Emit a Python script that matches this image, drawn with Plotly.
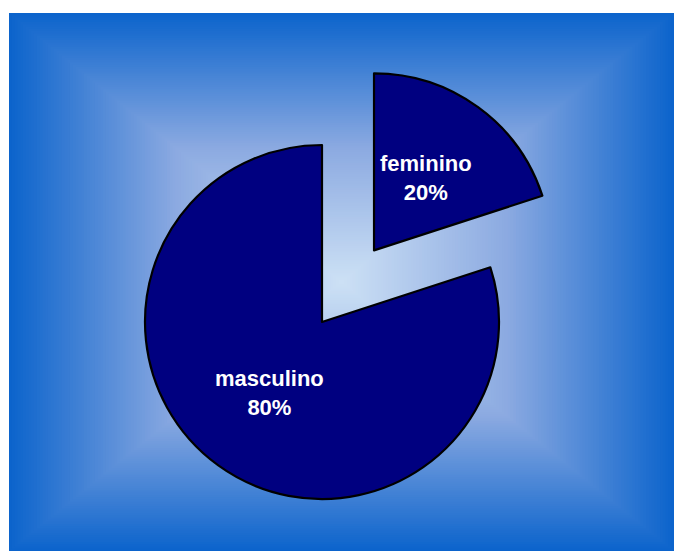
import math
import plotly.graph_objects as go

# Data
labels = ["feminino", "masculino"]
values = [20, 80]
pulls = [0.5, 0.0]

W, H = 674, 551
SLICE_COLOR = "#000080"

# Pie geometry (pixels)
cx, cy = 322.0, 322.0
radius = 177.0

# Gradient frame (pixels)
box_l, box_t, box_r, box_b = 9.0, 13.0, 674.0, 551.0
# colour stops: (distance from centre 0..1, rgb)
grad_stops = [
    (0.0, (205, 225, 245)),
    (0.5, (140, 170, 225)),
    (1.0, (12, 100, 204)),
]


def px_x(x):
    return x / W


def px_y(y):
    return 1 - y / H


def grad_color(t):
    for (t0, c0), (t1, c1) in zip(grad_stops[:-1], grad_stops[1:]):
        if t <= t1:
            f = (t - t0) / (t1 - t0)
            return tuple(round(a + (b - a) * f) for a, b in zip(c0, c1))
    return grad_stops[-1][1]


fig = go.Figure()

# Rectangular "from center" gradient built from nested rectangles
steps = 120
gcx = (box_l + box_r) / 2
gcy = (box_t + box_b) / 2
hw = (box_r - box_l) / 2
hh = (box_b - box_t) / 2
shapes = []
for i in range(steps):
    t = 1 - i / steps
    col = grad_color(t)
    shapes.append(dict(
        type="rect", xref="paper", yref="paper", layer="below",
        x0=px_x(gcx - hw * t), x1=px_x(gcx + hw * t),
        y0=px_y(gcy + hh * t), y1=px_y(gcy - hh * t),
        fillcolor="rgb(%d,%d,%d)" % col, line=dict(width=0),
    ))

# Slice angles (clockwise from 12 o'clock)
total = sum(values)
angles = []
start = 0.0
for v in values:
    sweep = 360.0 * v / total
    angles.append((start, start + sweep))
    start += sweep

annotations = []
for i, (lab, val) in enumerate(zip(labels, values)):
    a0, a1 = angles[i]
    mid = math.radians((a0 + a1) / 2)
    off = pulls[i] * radius
    pcx = cx + off * math.sin(mid)
    pcy = cy - off * math.cos(mid)
    colors = ["rgba(0,0,0,0)"] * len(values)
    widths = [0] * len(values)
    colors[i] = SLICE_COLOR
    widths[i] = 2.2
    fig.add_trace(go.Pie(
        labels=labels, values=values, sort=False, direction="clockwise",
        rotation=0, textinfo="none", hoverinfo="label+percent",
        showlegend=False,
        marker=dict(colors=colors, line=dict(color="black", width=widths)),
        domain=dict(x=[px_x(pcx - radius), px_x(pcx + radius)],
                    y=[px_y(pcy + radius), px_y(pcy - radius)]),
    ))
    # label at half radius along the slice bisector
    tx = pcx + 0.5 * radius * math.sin(mid)
    ty = pcy - 0.5 * radius * math.cos(mid)
    pct = round(100 * val / total)
    annotations.append(dict(
        x=px_x(tx), y=px_y(ty - 1), xref="paper", yref="paper",
        text=f"{lab}<br>{pct}%", showarrow=False,
        xanchor="center", yanchor="middle", align="center",
        font=dict(family="Liberation Sans, Arial, sans-serif", size=22,
                  color="white", weight="bold"),
    ))

fig.update_layout(
    width=W, height=H, margin=dict(l=0, r=0, t=0, b=0),
    paper_bgcolor="white", plot_bgcolor="white",
    shapes=shapes, annotations=annotations,
)

fig.write_html("out.html")
